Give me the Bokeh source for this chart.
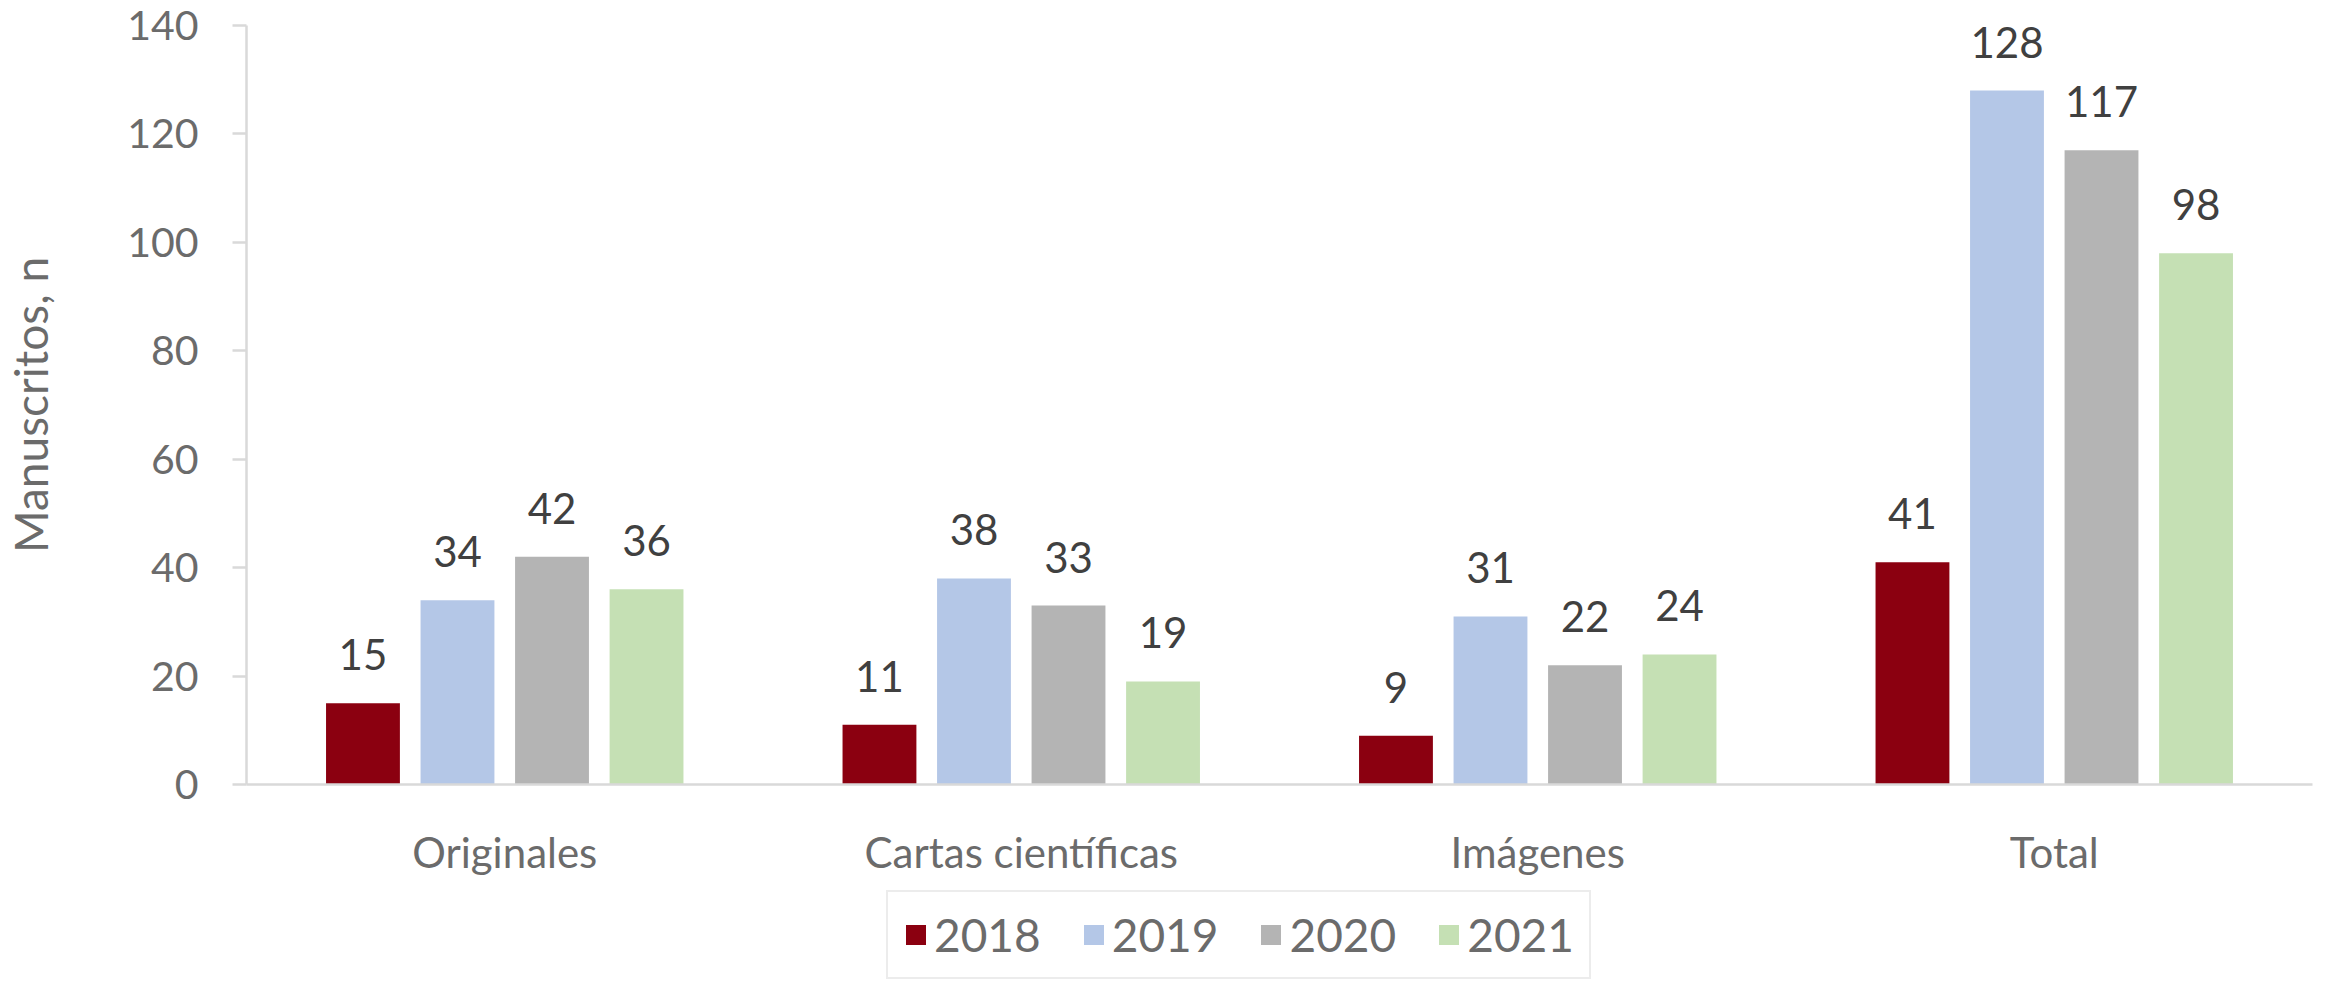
from bokeh.plotting import figure
from bokeh.layouts import column
from bokeh.models import ColumnDataSource, FactorRange, FixedTicker, LabelSet, Legend, LegendItem, Range1d
from bokeh.transform import dodge
from bokeh.core.properties import value
from bokeh.embed import file_html
from bokeh.resources import INLINE

categories = ["Originales", "Cartas científicas", "Imágenes", "Total"]
years = ["2018", "2019", "2020", "2021"]
v2018 = [15, 11, 9, 41]
v2019 = [34, 38, 31, 128]
v2020 = [42, 33, 22, 117]
v2021 = [36, 19, 24, 98]
colors = ["#8B0010", "#B4C7E7", "#B4B4B4", "#C5E0B4"]
y_ticks = [0, 20, 40, 60, 80, 100, 120, 140]
y_title = "Manuscritos, n"

FONT = "Lato"
TICK_COLOR = "#6b6b6b"
LABEL_COLOR = "#404040"
AXIS_COLOR = "#d9d9d9"

series = {"2018": v2018, "2019": v2019, "2020": v2020, "2021": v2021}
data = {"cat": categories}
for y in years:
    data["v" + y] = series[y]
    data["t" + y] = [str(v) for v in series[y]]
src = ColumnDataSource(data)

W = 2325
H_MAIN = 888
H_LEG = 93

p = figure(
    x_range=FactorRange(*categories),
    y_range=Range1d(0, 140),
    width=W, height=H_MAIN,
    output_backend="svg", toolbar_location=None,
    min_border_left=242, min_border_right=13, min_border_top=25, min_border_bottom=104,
)
p.outline_line_color = None
p.xgrid.grid_line_color = None
p.ygrid.grid_line_color = None

offsets = [-0.2745, -0.0915, 0.0915, 0.2745]
bar_w = 0.143
for y, c, off in zip(years, colors, offsets):
    p.vbar(x=dodge("cat", off, range=p.x_range), top="v" + y, width=bar_w,
           source=src, fill_color=c, line_color=None)
    lbl = LabelSet(x=dodge("cat", off, range=p.x_range), y="v" + y, text="t" + y,
                   source=src, text_align="center", text_baseline="bottom",
                   y_offset=33, text_font=value(FONT), text_font_size="42px",
                   text_color=LABEL_COLOR)
    p.add_layout(lbl)

# y axis
ya = p.yaxis[0]
ya.ticker = FixedTicker(ticks=y_ticks)
ya.axis_line_color = AXIS_COLOR
ya.axis_line_width = 2.5
ya.major_tick_line_color = AXIS_COLOR
ya.major_tick_line_width = 2.5
ya.major_tick_out = 14
ya.major_tick_in = 0
ya.minor_tick_line_color = None
ya.major_label_text_font = FONT
ya.major_label_text_font_size = "41px"
ya.major_label_text_color = TICK_COLOR
ya.major_label_standoff = 34
ya.axis_label = y_title
ya.axis_label_text_font = FONT
ya.axis_label_text_font_size = "46px"
ya.axis_label_text_font_style = "normal"
ya.axis_label_text_color = TICK_COLOR
ya.axis_label_standoff = 66

# x axis
xa = p.xaxis[0]
xa.axis_line_color = AXIS_COLOR
xa.axis_line_width = 2.5
xa.major_tick_line_color = None
xa.minor_tick_line_color = None
xa.major_label_text_font = FONT
xa.major_label_text_font_size = "42px"
xa.major_label_text_color = TICK_COLOR
xa.major_label_standoff = 36

# legend in its own strip below the chart (frame aligned with the chart's frame)
lg = figure(width=W, height=H_LEG, output_backend="svg", toolbar_location=None,
            x_range=Range1d(0, 1), y_range=Range1d(0, 1),
            min_border_left=0, min_border_right=0, min_border_top=0, min_border_bottom=0)
lg.axis.visible = False
lg.grid.visible = False
lg.outline_line_color = None
items = []
for y, c in zip(years, colors):
    # legend key only: a zero-height bar placed outside the visible range
    s = ColumnDataSource(dict(x=[-10.0], top=[0.0]))
    r = lg.vbar(x="x", top="top", width=0.1, source=s, fill_color=c, line_color=None)
    items.append(LegendItem(label=y, renderers=[r]))
legend = Legend(items=items, orientation="horizontal", location=(640, 2),
                label_text_font=FONT, label_text_font_size="46px",
                label_text_color=TICK_COLOR, glyph_width=25, glyph_height=25,
                label_standoff=6, spacing=40, padding=15, margin=0,
                border_line_color=AXIS_COLOR, border_line_width=2.5)
lg.add_layout(legend, "center")

layout = column(p, lg, spacing=0)
open("out.html", "w").write(file_html(layout, INLINE))
